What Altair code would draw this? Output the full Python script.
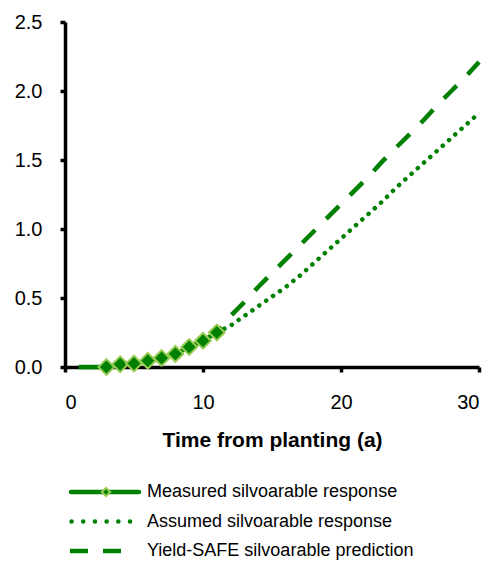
import altair as alt
import pandas as pd

# ---- data ----
series_names = [
    "Measured silvoarable response",
    "Assumed silvoarable response",
    "Yield-SAFE silvoarable prediction",
]

measured_years = [1, 2, 3, 4, 5, 6, 7, 8, 9, 10, 11]
measured_values = [0.0, 0.0, 0.0, 0.02, 0.025, 0.045, 0.065, 0.095, 0.145, 0.19, 0.25]
marker_start_year = 3  # diamonds are shown from year 3 onward

proj_years = [11, 12, 13, 14, 15, 16, 17, 18, 19, 20, 21, 22, 23, 24, 25, 26, 27, 28, 29, 30]
assumed_values = [0.25, 0.30, 0.37, 0.44, 0.51, 0.58, 0.66, 0.75, 0.84, 0.93,
                  1.02, 1.11, 1.20, 1.30, 1.39, 1.48, 1.57, 1.66, 1.75, 1.84]
yieldsafe_values = [0.25, 0.37, 0.47, 0.58, 0.68, 0.78, 0.88, 0.98, 1.08, 1.18,
                    1.28, 1.38, 1.49, 1.59, 1.69, 1.79, 1.90, 2.00, 2.10, 2.21]

x_ticks = [0, 10, 20, 30]
y_ticks = [0.0, 0.5, 1.0, 1.5, 2.0, 2.5]

GREEN = "#008000"
LIGHT = "#99cc55"
FONT = "Liberation Sans"

measured_df = pd.DataFrame({"year": measured_years, "value": measured_values})
markers_df = measured_df[measured_df["year"] >= marker_start_year]
assumed_df = pd.DataFrame({"year": proj_years, "value": assumed_values})
yieldsafe_df = pd.DataFrame({"year": proj_years, "value": yieldsafe_values})

x_enc = alt.X(
    "year:Q",
    scale=alt.Scale(domain=[0, 30], nice=False),
    axis=alt.Axis(
        values=x_ticks, title="Time from planting (a)", format="d", grid=False,
        labelFontSize=20, labelPadding=20.5, tickSize=5,
        titleFontSize=21, titleFontWeight="bold", titlePadding=17,
    ),
)
y_enc = alt.Y(
    "value:Q",
    scale=alt.Scale(domain=[0, 2.5], nice=False),
    axis=alt.Axis(values=y_ticks, format=".1f", title=None, grid=False,
                  labelFontSize=20, labelPadding=18, tickSize=5),
)

dotted = alt.Chart(assumed_df).mark_line(
    color=GREEN, strokeWidth=4.5, strokeDash=[0.1, 8.3], strokeCap="round"
).encode(x=x_enc, y=y_enc)

dashed = alt.Chart(yieldsafe_df).mark_line(
    color=GREEN, strokeWidth=4.5, strokeDash=[18, 15.7], strokeDashOffset=10.7,
    strokeCap="butt"
).encode(x=x_enc, y=y_enc)

meas_line = alt.Chart(measured_df).mark_line(
    color=GREEN, strokeWidth=4.5
).encode(x=x_enc, y=y_enc)

meas_pts = alt.Chart(markers_df).mark_point(
    shape="diamond", filled=True, size=250, fill=GREEN, stroke=LIGHT,
    strokeWidth=2, opacity=1
).encode(x=x_enc, y=y_enc)

main = alt.layer(dotted, dashed, meas_line, meas_pts)

# ---- legend below the plot, drawn through its own point scale ----
legend_df = pd.DataFrame({"series": series_names})
ly = alt.Y(
    "series:N",
    scale=alt.Scale(type="point", domain=series_names, range=[470, 529], padding=0),
    axis=None,
)

leg_meas = alt.Chart(legend_df).transform_filter(
    alt.datum.series == series_names[0]
).mark_rule(color=GREEN, strokeWidth=4.5, strokeCap="round").encode(
    x=alt.value(6), x2=alt.value(74), y=ly)

leg_meas_pt = alt.Chart(legend_df).transform_filter(
    alt.datum.series == series_names[0]
).mark_point(shape="diamond", filled=True, size=70, fill=GREEN, stroke=LIGHT,
             strokeWidth=2, opacity=1).encode(x=alt.value(41), y=ly)

leg_assumed = alt.Chart(legend_df).transform_filter(
    alt.datum.series == series_names[1]
).mark_rule(color=GREEN, strokeWidth=4.5, strokeDash=[0.1, 11.6],
            strokeCap="round").encode(x=alt.value(6.5), x2=alt.value(66), y=ly)

leg_yield = alt.Chart(legend_df).transform_filter(
    alt.datum.series == series_names[2]
).mark_rule(color=GREEN, strokeWidth=4.5, strokeDash=[18, 15],
            strokeCap="butt").encode(x=alt.value(5), x2=alt.value(57), y=ly)

leg_text = alt.Chart(legend_df).mark_text(
    align="left", baseline="middle", fontSize=18, font=FONT, color="black"
).encode(x=alt.value(82), y=ly, text="series:N")

legend = alt.layer(leg_meas, leg_meas_pt, leg_assumed, leg_yield, leg_text)

chart = alt.layer(main, legend).resolve_scale(y="independent").properties(
    width=414,
    height=345,
    background="white",
    autosize=alt.AutoSizeParams(type="none"),
    padding={"left": 65, "top": 22, "right": 17, "bottom": 195},
).configure_view(stroke=None).configure_axis(
    grid=False,
    domainColor="black",
    domainWidth=3.5,
    tickColor="black",
    tickWidth=3.5,
    labelColor="black",
    titleColor="black",
    labelFont=FONT,
    titleFont=FONT,
)

chart.save("out.html", embed_options={"renderer": "svg", "actions": False})
